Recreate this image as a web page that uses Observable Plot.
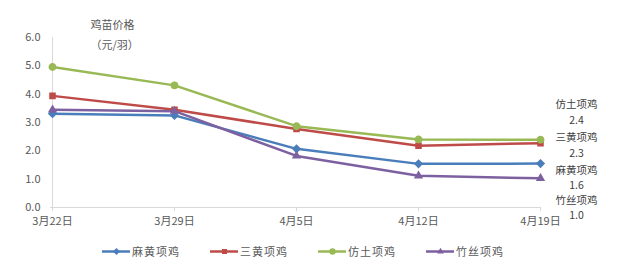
<!DOCTYPE html>
<html><head><meta charset="utf-8">
<script src="https://cdn.jsdelivr.net/npm/d3@7"></script>
<script src="https://cdn.jsdelivr.net/npm/@observablehq/plot@0.6"></script>
<style>
body{margin:0;background:#fff;font-family:"Noto Sans CJK SC",sans-serif;}
#legend{display:flex;height:38px;align-items:center;font-size:11px;color:#595959;padding-left:102px;letter-spacing:1px;}
#legend .it{display:flex;align-items:center;margin-right:30px;}
#legend svg{margin-right:2px;}
</style></head><body>
<div id="chart"></div>
<div id="legend"></div>
<script>
const dates = ["3月22日","3月29日","4月5日","4月12日","4月19日"];
const seriesNames = ["麻黄项鸡","三黄项鸡","仿土项鸡","竹丝项鸡"];
const mahuang = [3.31, 3.25, 2.07, 1.54, 1.55];
const sanhuang = [3.94, 3.45, 2.77, 2.18, 2.27];
const fangtu = [4.96, 4.31, 2.87, 2.40, 2.39];
const zhusi = [3.45, 3.40, 1.82, 1.12, 1.03];
const endLabels = ["2.4","2.3","1.6","1.0"];
const yTicks = [0,1,2,3,4,5,6];
const axisTitle = ["鸡苗价格","（元/羽）"];

const colors = {"麻黄项鸡":"#4A7EBB","三黄项鸡":"#BE4B48","仿土项鸡":"#98B954","竹丝项鸡":"#7D60A0"};
const symbols = {"麻黄项鸡":"diamond2","三黄项鸡":"square2","仿土项鸡":"circle","竹丝项鸡":"triangle2"};
const vals = {"麻黄项鸡":mahuang,"三黄项鸡":sanhuang,"仿土项鸡":fangtu,"竹丝项鸡":zhusi};
const data = seriesNames.flatMap(s => dates.map((d,i)=>({s, d, v: vals[s][i]})));

const labelOrder = ["仿土项鸡","三黄项鸡","麻黄项鸡","竹丝项鸡"];
const labelVals = {"仿土项鸡":endLabels[0],"三黄项鸡":endLabels[1],"麻黄项鸡":endLabels[2],"竹丝项鸡":endLabels[3]};
const labelDy = {"仿土项鸡":-35,"三黄项鸡":-6,"麻黄项鸡":7,"竹丝项鸡":22};
const valueGap = {"仿土项鸡":16,"三黄项鸡":16,"麻黄项鸡":15,"竹丝项鸡":15};
const lastIdx = dates.length-1;

const font = '"Noto Sans CJK SC", sans-serif';
const labelMarks = labelOrder.flatMap(s => {
  const row = [{d: dates[lastIdx], v: vals[s][lastIdx]}];
  return [
    Plot.text(row, {x: "d", y: "v", text: () => s, dx: 36, dy: labelDy[s], fill: "#404040", fontSize: 10.5}),
    Plot.text(row, {x: "d", y: "v", text: () => labelVals[s], dx: 36, dy: labelDy[s] + valueGap[s], fill: "#404040", fontSize: 10.5})
  ];
});

const chart = Plot.plot({
  width: 617, height: 232,
  marginLeft: 50, marginRight: 76, marginTop: 37, marginBottom: 25,
  style: {fontFamily: font, fontSize: "11px", color: "#595959", background: "#fff"},
  x: {type: "point", domain: dates, padding: 0, label: null},
  y: {domain: [0,6], label: null},
  marks: [
    Plot.ruleX([dates[0]], {stroke: "#d9d9d9"}),
    Plot.ruleY([0], {stroke: "#d9d9d9"}),
    Plot.axisX({ticks: dates, tickSize: 4, stroke: "#d9d9d9", tickPadding: 6, fill: "#595959"}),
    Plot.axisY({ticks: yTicks, tickSize: 0, tickPadding: 10, tickFormat: d => d.toFixed(1), fill: "#595959"}),
    Plot.text([axisTitle[0]], {frameAnchor: "top-left", dx: 40, dy: -16, text: d => d, fill: "#595959", fontSize: 11}),
    Plot.text([axisTitle[1]], {frameAnchor: "top-left", dx: 40, dy: 4, text: d => d, fill: "#595959", fontSize: 11}),
    Plot.line(data, {x: "d", y: "v", z: "s", stroke: d => colors[d.s], strokeWidth: 2.5}),
    Plot.dot(data, {x: "d", y: "v", symbol: d => symbols[d.s], fill: d => colors[d.s], stroke: d => colors[d.s], r: 3.2}),
    ...labelMarks
  ]
});
document.getElementById("chart").appendChild(chart);

// legend
const leg = document.getElementById("legend");
seriesNames.forEach(s => {
  const it = document.createElement("div");
  it.className = "it";
  const sw = Plot.plot({
    width: 28, height: 12, margin: 0, axis: null,
    x: {domain: [0, 1]}, y: {domain: [0, 1]},
    marks: [
      Plot.lineY([{x:0,y:0.5},{x:1,y:0.5}], {x:"x", y:"y", stroke: colors[s], strokeWidth: 2.5}),
      Plot.dot([{x:0.5,y:0.5}], {x:"x", y:"y", symbol: symbols[s], fill: colors[s], r: 3.2})
    ]
  });
  it.appendChild(sw);
  const t = document.createElement("span");
  t.textContent = s;
  it.appendChild(t);
  leg.appendChild(it);
});
</script>
</body></html>
